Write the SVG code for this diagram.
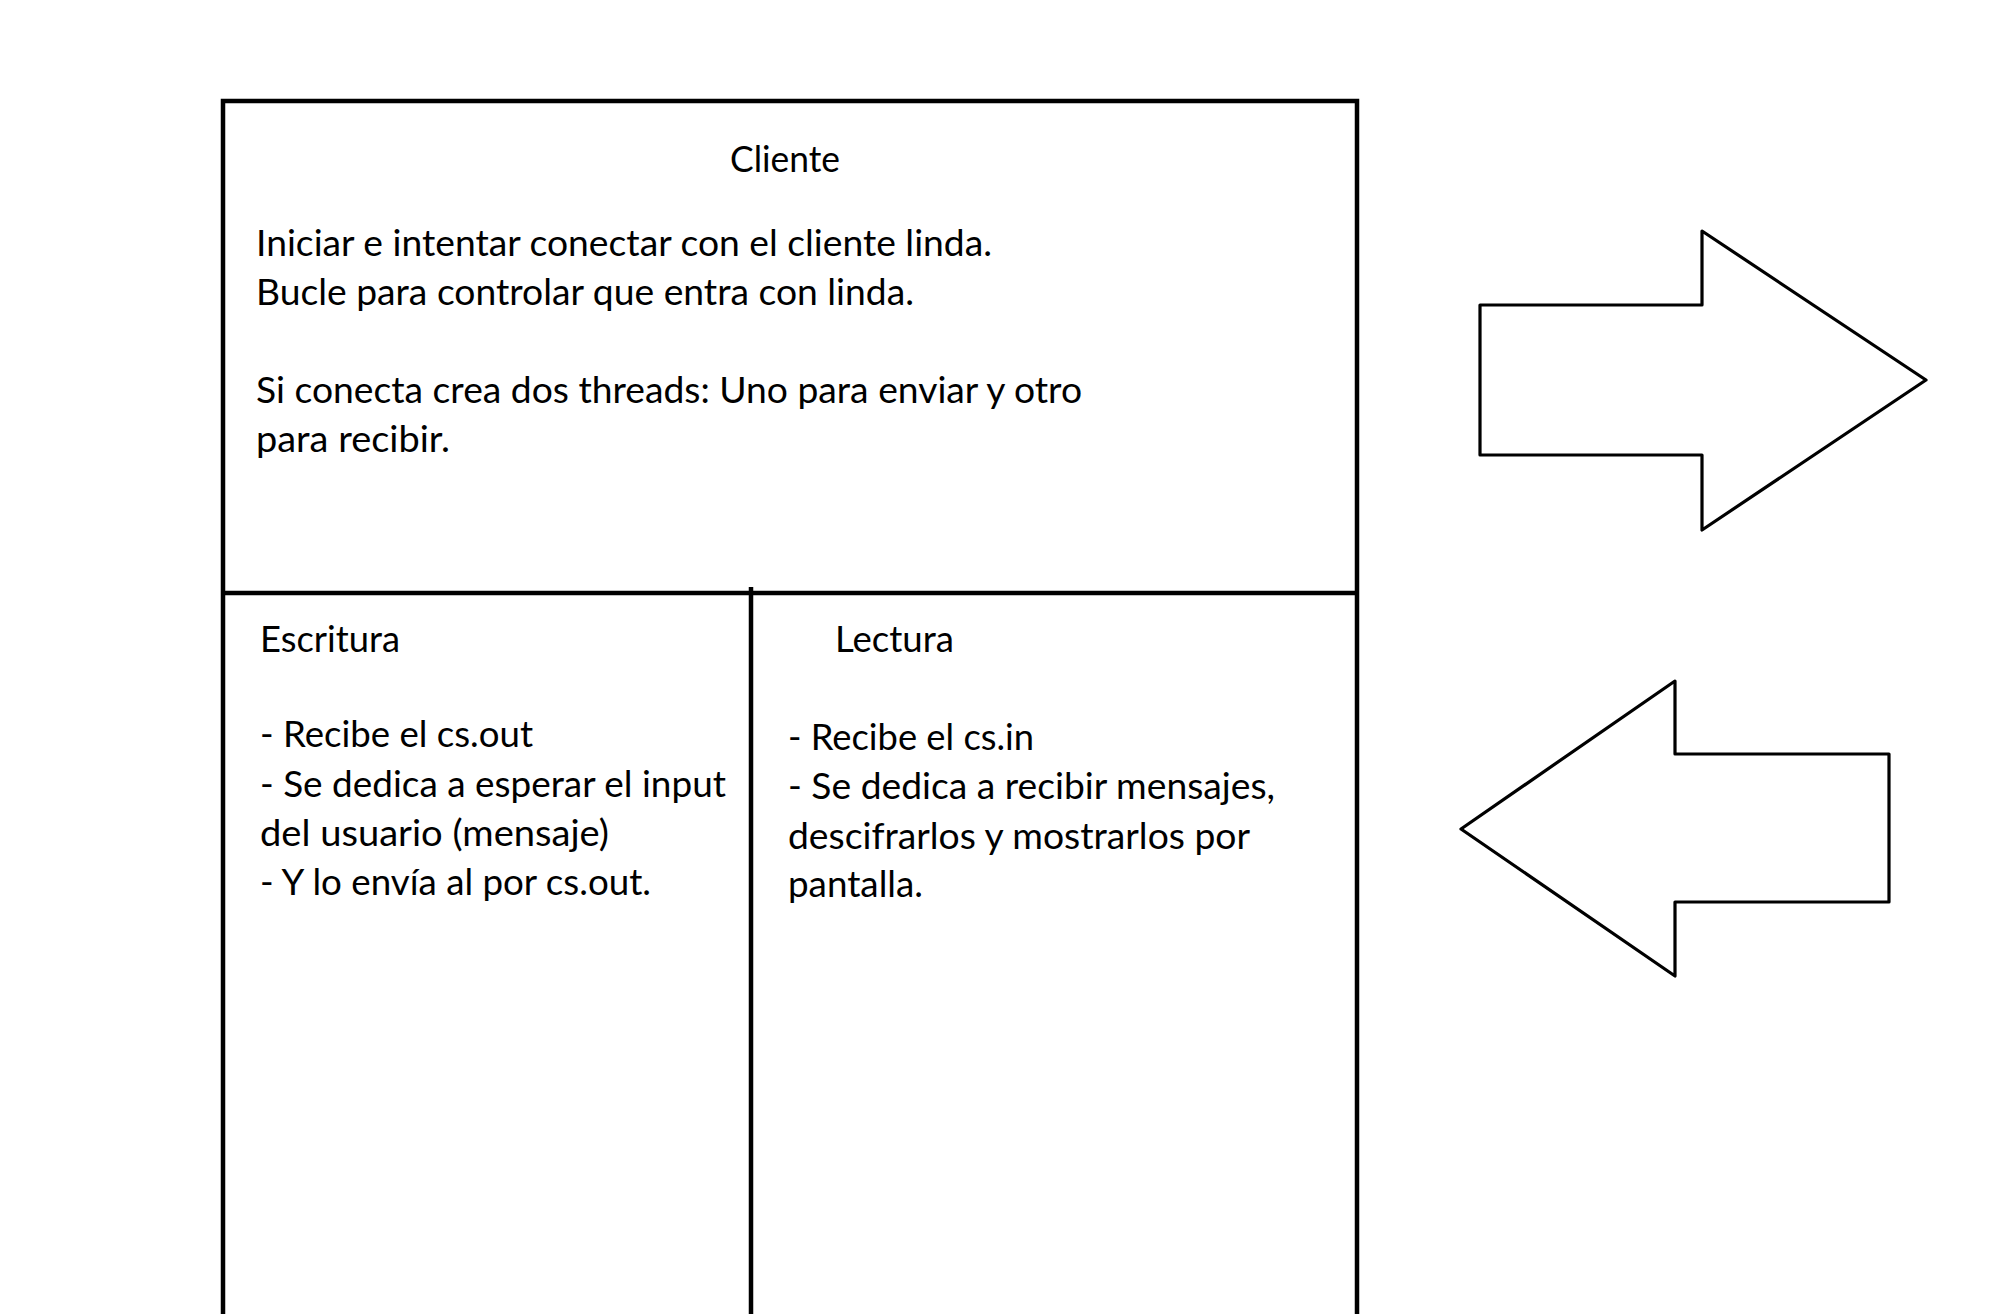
<svg xmlns="http://www.w3.org/2000/svg" width="2014" height="1314" viewBox="0 0 2014 1314">
<style>
.t{font-family:Lato,"Open Sans","Liberation Sans",sans-serif;font-size:36px;fill:#000}
.frame{fill:none;stroke:#000;stroke-width:4.5}
.arrow{fill:#fff;stroke:#000;stroke-width:3.2;stroke-linejoin:round}
</style>
<rect width="2014" height="1314" fill="#fff"/>
<g id="cliente">
<path class="frame" d="M223,1320 V101 H1357 V1320"/>
<line class="frame" x1="223" y1="593" x2="1357" y2="593"/>
<text class="t" x="730" y="172" textLength="110" lengthAdjust="spacingAndGlyphs">Cliente</text>
<text class="t" x="256" y="256" textLength="736" lengthAdjust="spacingAndGlyphs">Iniciar e intentar conectar con el cliente linda.</text>
<text class="t" x="256" y="305" textLength="658" lengthAdjust="spacingAndGlyphs">Bucle para controlar que entra con linda.</text>
<text class="t" x="256" y="403" textLength="826" lengthAdjust="spacingAndGlyphs">Si conecta crea dos threads: Uno para enviar y otro</text>
<text class="t" x="256" y="452" textLength="194" lengthAdjust="spacingAndGlyphs">para recibir.</text>
</g>
<g id="escritura">
<line class="frame" x1="751" y1="587" x2="751" y2="1320"/>
<text class="t" x="260" y="652" textLength="140" lengthAdjust="spacingAndGlyphs">Escritura</text>
<text class="t" x="260" y="747" textLength="273" lengthAdjust="spacingAndGlyphs">- Recibe el cs.out</text>
<text class="t" x="260" y="797" textLength="466" lengthAdjust="spacingAndGlyphs">- Se dedica a esperar el input</text>
<text class="t" x="260" y="846" textLength="349" lengthAdjust="spacingAndGlyphs">del usuario (mensaje)</text>
<text class="t" x="260" y="895" textLength="391" lengthAdjust="spacingAndGlyphs">- Y lo envía al por cs.out.</text>
</g>
<g id="lectura">
<text class="t" x="835" y="652" textLength="119" lengthAdjust="spacingAndGlyphs">Lectura</text>
<text class="t" x="788" y="750" textLength="246" lengthAdjust="spacingAndGlyphs">- Recibe el cs.in</text>
<text class="t" x="788" y="799" textLength="487" lengthAdjust="spacingAndGlyphs">- Se dedica a recibir mensajes,</text>
<text class="t" x="788" y="849" textLength="462" lengthAdjust="spacingAndGlyphs">descifrarlos y mostrarlos por</text>
<text class="t" x="788" y="897" textLength="135" lengthAdjust="spacingAndGlyphs">pantalla.</text>
</g>
<g id="connectors">
<polygon id="arrow-right" class="arrow" points="1480,305 1702,305 1702,231 1926,380 1702,530 1702,455 1480,455"/>
<polygon id="arrow-left" class="arrow" points="1889,754 1675,754 1675,681 1461,829 1675,976 1675,902 1889,902"/>
</g>
</svg>
